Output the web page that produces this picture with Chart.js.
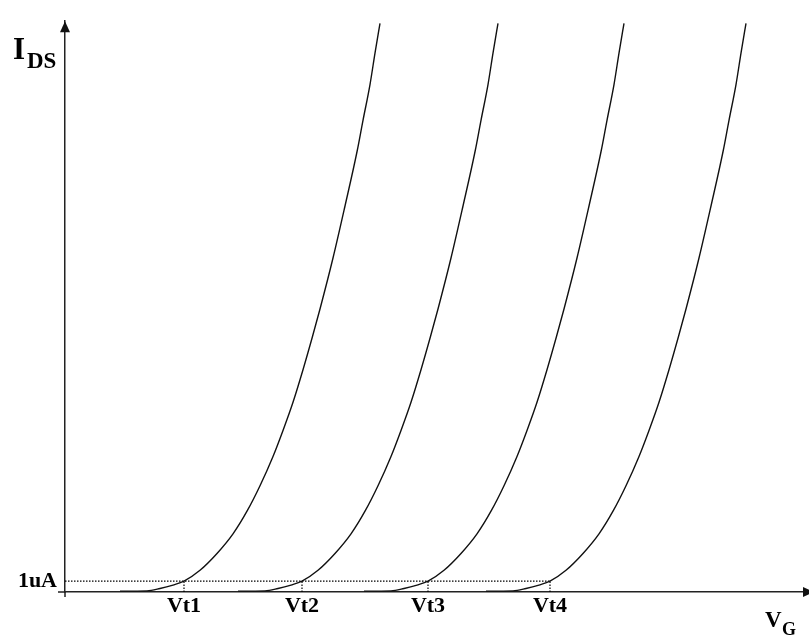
<!DOCTYPE html>
<html><head><meta charset="utf-8">
<script src="https://cdn.jsdelivr.net/npm/chart.js@4.4.0/dist/chart.umd.min.js"></script>
<style>html,body{margin:0;padding:0;background:#fff;overflow:hidden}canvas{display:block}</style>
</head><body>
<canvas id="c" width="809" height="638"></canvas>
<script>
// ---- data (V_G in arbitrary volts, I_DS in uA) ----
const thresholdLabels = ['Vt1', 'Vt2', 'Vt3', 'Vt4'];
const thresholdVoltages = [1.19, 2.37, 3.63, 4.85];
const currentTickValue = 1;
const currentTickLabel = '1uA';
const drainCurrent = [0.08, 0.1, 0.32, 0.64, 1.0, 2.0, 3.55, 5.36, 7.45, 9.8, 12.5, 14.9, 17.5, 20.5, 23.4, 26.1, 30.8, 35.6, 40.6, 43.5, 46.8, 49.7, 52.45];
const gateVoltage1 = [0.55, 0.82, 0.95, 1.08, 1.19, 1.35, 1.52, 1.68, 1.82, 1.95, 2.08, 2.18, 2.28, 2.38, 2.47, 2.55, 2.68, 2.80, 2.92, 2.98, 3.05, 3.10, 3.15];
const gateVoltage2 = [1.73, 2.00, 2.13, 2.26, 2.37, 2.53, 2.70, 2.86, 3.00, 3.13, 3.26, 3.36, 3.46, 3.56, 3.65, 3.73, 3.86, 3.98, 4.10, 4.16, 4.23, 4.28, 4.33];
const gateVoltage3 = [2.99, 3.26, 3.39, 3.52, 3.63, 3.79, 3.96, 4.12, 4.26, 4.39, 4.52, 4.62, 4.72, 4.82, 4.91, 4.99, 5.12, 5.24, 5.36, 5.42, 5.49, 5.54, 5.59];
const gateVoltage4 = [4.21, 4.48, 4.61, 4.74, 4.85, 5.01, 5.18, 5.34, 5.48, 5.61, 5.74, 5.84, 5.94, 6.04, 6.13, 6.21, 6.34, 6.46, 6.58, 6.64, 6.71, 6.76, 6.81];
const xMin = 0, xMax = 7.43;
const yMin = 0, yMax = 52.64;

const curves = [gateVoltage1, gateVoltage2, gateVoltage3, gateVoltage4];
const SERIF = '"Liberation Serif", "Times New Roman", serif';

const datasets = curves.map(vg => ({
  data: vg.map((x, i) => ({ x, y: drainCurrent[i] })),
  borderColor: '#111', borderWidth: 1.4, pointRadius: 0,
  cubicInterpolationMode: 'monotone', fill: false
}));
// dotted 1uA level
datasets.push({
  data: [{ x: xMin, y: currentTickValue }, { x: thresholdVoltages[thresholdVoltages.length - 1], y: currentTickValue }],
  borderColor: '#000', borderWidth: 1.2, borderDash: [1.5, 1.5], pointRadius: 0, fill: false
});
thresholdVoltages.forEach(v => datasets.push({
  data: [{ x: v, y: 0 }, { x: v, y: currentTickValue }],
  borderColor: '#000', borderWidth: 1.2, borderDash: [1.5, 1.5], pointRadius: 0, fill: false
}));

const decor = {
  id: 'decor',
  afterDraw(chart) {
    const ctx = chart.ctx, a = chart.chartArea;
    const L = a.left, B = a.bottom, T = a.top, R = a.right;
    ctx.save();
    ctx.strokeStyle = '#222'; ctx.fillStyle = '#111'; ctx.lineWidth = 1.5;
    // axis overhang at origin
    ctx.beginPath(); ctx.moveTo(L - 7, B); ctx.lineTo(L, B); ctx.moveTo(L, B); ctx.lineTo(L, B + 5); ctx.stroke();
    // arrow heads
    ctx.beginPath(); ctx.moveTo(L, T); ctx.lineTo(L - 5, T + 11); ctx.lineTo(L + 5, T + 11); ctx.closePath(); ctx.fill();
    ctx.beginPath(); ctx.moveTo(R + 6, B); ctx.lineTo(R - 5, B - 5); ctx.lineTo(R - 5, B + 5); ctx.closePath(); ctx.fill();
    // axis names with subscripts
    ctx.fillStyle = '#000'; ctx.textBaseline = 'alphabetic'; ctx.textAlign = 'left';
    ctx.font = 'bold 31px ' + SERIF; ctx.fillText('I', 13, 59);
    ctx.font = 'bold 23px ' + SERIF; ctx.fillText('DS', 27, 68);
    ctx.font = 'bold 23px ' + SERIF; ctx.fillText('V', 765, 627);
    ctx.font = 'bold 18px ' + SERIF; ctx.fillText('G', 782, 635);
    ctx.restore();
  }
};

new Chart(document.getElementById('c'), {
  type: 'line',
  data: { datasets },
  options: {
    responsive: false, animation: false, devicePixelRatio: 1,
    layout: { padding: { top: 13, right: 1, left: 0, bottom: 0 } },
    plugins: { legend: { display: false }, tooltip: { enabled: false } },
    scales: {
      x: {
        type: 'linear', min: xMin, max: xMax,
        grid: { display: false, drawTicks: false },
        border: { display: true, color: '#222', width: 1.5 },
        ticks: {
          autoSkip: false, maxRotation: 0, padding: 1, color: '#000',
          font: { family: SERIF, weight: 'bold', size: 22 },
          callback: (v, i) => thresholdLabels[i]
        },
        afterBuildTicks: s => { s.ticks = thresholdVoltages.map(v => ({ value: v })); },
        afterFit: s => { s.height = 46; }
      },
      y: {
        type: 'linear', min: yMin, max: yMax,
        grid: { display: false, drawTicks: false },
        border: { display: true, color: '#222', width: 1.5 },
        ticks: {
          autoSkip: false, padding: 8, color: '#000',
          font: { family: SERIF, weight: 'bold', size: 22 },
          callback: () => currentTickLabel
        },
        afterBuildTicks: s => { s.ticks = [{ value: currentTickValue }]; },
        afterFit: s => { s.width = 65; }
      }
    }
  },
  plugins: [decor]
});
</script>
</body></html>
